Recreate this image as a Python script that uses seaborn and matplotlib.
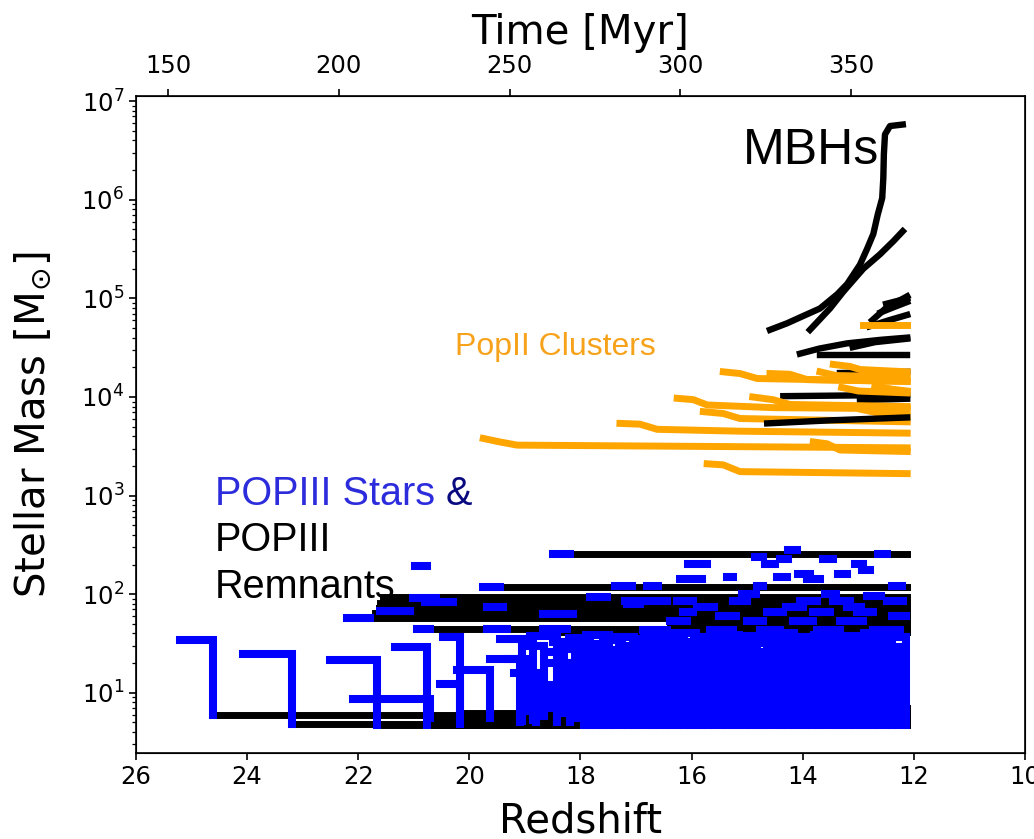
import numpy as np
import pandas as pd
import matplotlib
matplotlib.use("Agg")
import matplotlib.pyplot as plt
import seaborn as sns

# ---------------------------------------------------------------- data
Z_END = 12.12

# Pop III stars drawn as steps: formation z, death z, initial mass, remnant mass
step_z_form = [25.21, 24.07, 22.51, 22.09, 21.34, 20.47, 20.22, 20.53, 19.63, 19.20,
               19.45, 19.30, 19.20, 19.00, 18.95, 18.90, 18.60, 18.55, 18.50, 18.30,
               18.20, 18.10, 17.95, 17.90, 17.75, 17.60, 17.50, 17.45, 17.30, 17.20,
               17.05, 17.00, 16.85, 16.75, 16.60, 16.55, 16.40, 16.30, 16.20, 16.10,
               15.95, 15.90, 15.75, 15.65, 15.50, 15.45, 15.30, 15.20, 15.10, 15.00,
               14.90, 14.75, 14.65, 14.55, 14.45, 14.30, 14.25, 14.10, 14.00, 13.90,
               13.80, 13.65, 13.55, 13.45, 13.35, 13.25, 13.10, 13.00, 12.90, 12.80,
               12.70, 12.55]
step_z_death = [24.61, 23.19, 21.66, 20.71, 20.76, 20.17, 19.63, 20.17, 19.09, 18.85,
                19.05, 18.92, 18.80, 18.66, 18.55, 18.42, 18.30, 18.18, 18.05, 17.93,
                17.82, 17.70, 17.60, 17.48, 17.37, 17.25, 17.14, 17.03, 16.92, 16.80,
                16.70, 16.58, 16.47, 16.36, 16.25, 16.14, 16.03, 15.92, 15.81, 15.70,
                15.59, 15.48, 15.37, 15.26, 15.15, 15.04, 14.93, 14.82, 14.71, 14.60,
                14.49, 14.38, 14.27, 14.16, 14.05, 13.94, 13.83, 13.72, 13.61, 13.50,
                13.39, 13.28, 13.17, 13.06, 12.95, 12.84, 12.73, 12.62, 12.51, 12.40,
                12.26, 12.14]
step_m_init = [34.5, 24.9, 21.6, 8.7, 29.3, 37.0, 17.1, 12.3, 22.0, 35.0,
               35, 22, 16, 30, 12, 38, 26, 20, 33, 28,
               36, 24, 31, 39, 27, 34, 22, 37, 30, 25,
               35, 29, 38, 32, 26, 36, 30, 40, 33, 27,
               37, 31, 35, 28, 39, 33, 30, 36, 26, 38,
               32, 35, 29, 40, 34, 31, 37, 28, 36, 33,
               39, 30, 35, 32, 38, 27, 36, 31, 40, 34,
               29, 37]
step_m_rem = [6.0, 4.85, 4.75, 5.6, 4.75, 4.8, 5.5, 6.2, 5.0, 5.3,
              5.2, 6.5, 5.0, 5.8, 7.0, 5.0, 6.2, 5.1, 5.6, 4.7,
              4.7, 4.7, 4.7, 4.7, 4.7, 4.7, 4.7, 4.7, 4.7, 4.7,
              4.7, 4.7, 4.7, 4.7, 4.7, 4.7, 4.7, 4.7, 4.7, 4.7,
              4.7, 4.7, 4.7, 4.7, 4.7, 4.7, 4.7, 4.7, 4.7, 4.7,
              4.7, 4.7, 4.7, 4.7, 4.7, 4.7, 4.7, 4.7, 4.7, 4.7,
              4.7, 4.7, 4.7, 4.7, 4.7, 4.7, 4.7, 4.7, 4.7, 4.7,
              4.7, 4.7]

# short-lived Pop III stars drawn as blue dashes
dash_z_start = [20.97, 18.49, 19.75, 16.06, 16.21, 15.36, 14.86, 14.68, 14.41, 14.27,
                14.46, 14.08, 13.92, 13.63, 13.36, 13.06, 12.93, 12.64,
                22.20, 21.61, 21.01, 20.80, 20.95, 19.68, 19.68, 18.67, 18.67, 17.83,
                17.16, 17.38, 16.80, 14.82, 12.39, 17.20, 16.80, 16.26, 15.25, 14.05,
                13.45, 12.49, 16.15, 14.64, 13.81, 13.02, 16.39, 15.00, 14.18, 13.33,
                16.87, 15.67, 14.77, 13.74, 12.73, 15.90, 15.50, 14.30, 13.20, 12.85,
                12.40, 15.10, 13.60]
dash_z_end = [20.76, 18.19, 19.45, 15.72, 15.81, 15.25, 14.71, 14.50, 14.27, 14.10,
              14.28, 13.87, 13.69, 13.45, 13.20, 12.91, 12.79, 12.48,
              21.79, 21.07, 20.60, 20.29, 20.71, 19.39, 19.32, 18.13, 18.24, 17.52,
              16.93, 17.07, 16.60, 14.71, 12.21, 16.93, 16.44, 15.97, 15.00, 13.74,
              13.15, 12.20, 15.97, 14.35, 13.51, 12.73, 16.08, 14.71, 13.81, 12.91,
              16.44, 15.25, 14.41, 13.33, 12.25, 15.60, 15.20, 14.00, 12.95, 12.60,
              12.15, 14.85, 13.40]
dash_mass = [195, 258, 119, 204, 142, 151, 238, 204, 225, 283,
             151, 162, 142, 229, 160, 204, 177, 258,
             57, 68, 92, 84, 44, 75, 44, 63, 44, 94,
             80, 120, 120, 120, 120, 86, 86, 86, 86, 86,
             86, 86, 66, 66, 66, 66, 53, 53, 53, 53,
             43, 43, 43, 43, 43, 75, 60, 75, 75, 95,
             60, 100, 100]

# Pop III remnants (black) continuing to the last output
rem_z_start = [18.19, 19.45, 21.55, 21.60, 21.62, 21.70, 22.20, 20.71, 18.50, 16.39]
rem_mass = [258, 119, 94, 82, 72, 64, 57, 44, 41, 50]

# massive black holes
mbh1_z = [14.59, 14.28, 14.00, 13.69, 13.38, 13.20, 12.97, 12.84, 12.73, 12.65, 12.57,
          12.55, 12.54, 12.52, 12.43, 12.20]
mbh1_m = [4.8e4, 5.6e4, 6.6e4, 7.9e4, 1.1e5, 1.4e5, 2.2e5, 3.2e5, 4.5e5, 7.1e5, 1.04e6,
          1.66e6, 2.9e6, 4.6e6, 5.6e6, 5.8e6]
mbh2_z = [13.87, 13.51, 13.27, 12.91, 12.61, 12.37, 12.20]
mbh2_m = [4.8e4, 7.9e4, 1.17e5, 2.0e5, 2.8e5, 3.8e5, 4.8e5]
mbh3_z = [14.05, 13.70, 13.20, 12.60, 12.12]
mbh3_m = [2.75e4, 3.1e4, 3.5e4, 3.8e4, 4.0e4]
mbh4_z = [13.69, 12.12]
mbh4_m = [2.65e4, 2.65e4]
mbh5_z = [13.10, 12.70, 12.12]
mbh5_m = [3.2e4, 3.6e4, 3.9e4]
mbh6_z = [12.75, 12.50, 12.12]
mbh6_m = [6.0e4, 8.0e4, 1.05e5]
mbh7_z = [12.60, 12.35, 12.12]
mbh7_m = [7.2e4, 8.2e4, 9.2e4]
mbh8_z = [12.80, 12.45, 12.12]
mbh8_m = [5.2e4, 6.0e4, 6.8e4]
mbh9_z = [12.50, 12.12]
mbh9_m = [8.8e4, 1.0e5]
mbh10_z = [14.35, 12.12]
mbh10_m = [1.02e4, 1.05e4]
mbh11_z = [13.33, 12.12]
mbh11_m = [1.75e4, 1.8e4]
mbh12_z = [12.97, 12.12]
mbh12_m = [9.3e3, 9.6e3]
mbh13_z = [14.64, 13.50, 12.12]
mbh13_m = [5.4e3, 5.8e3, 6.2e3]

# Pop II clusters
pop2a_z = [19.75, 19.45, 19.14, 12.12]
pop2a_m = [3.8e3, 3.5e3, 3.25e3, 3.05e3]
pop2b_z = [17.29, 16.93, 16.62, 15.13, 12.12]
pop2b_m = [5.4e3, 5.3e3, 4.7e3, 4.5e3, 4.3e3]
pop2c_z = [16.26, 15.97, 15.72, 14.54, 12.12]
pop2c_m = [9.7e3, 9.4e3, 8.3e3, 7.8e3, 7.6e3]
pop2d_z = [15.79, 15.43, 15.13, 12.12]
pop2d_m = [7.1e3, 6.8e3, 6.05e3, 5.6e3]
pop2e_z = [15.43, 15.13, 14.82, 12.12]
pop2e_m = [1.8e4, 1.73e4, 1.54e4, 1.44e4]
pop2f_z = [14.90, 14.54, 14.23, 12.12]
pop2f_m = [1.0e4, 9.4e3, 8.4e3, 8.0e3]
pop2g_z = [14.59, 14.23, 13.92, 12.12]
pop2g_m = [1.73e4, 1.7e4, 1.5e4, 1.44e4]
pop2h_z = [13.45, 13.15, 12.97, 12.12]
pop2h_m = [2.14e4, 2.04e4, 1.9e4, 1.8e4]
pop2i_z = [15.72, 15.43, 15.13, 12.12]
pop2i_m = [2.1e3, 2.05e3, 1.75e3, 1.67e3]
pop2j_z = [13.81, 13.56, 13.33, 12.12]
pop2j_m = [3.5e3, 3.35e3, 2.9e3, 2.8e3]
pop2k_z = [12.91, 12.12]
pop2k_m = [5.4e4, 5.4e4]
pop2l_z = [13.69, 13.40, 12.12]
pop2l_m = [1.8e4, 1.65e4, 1.6e4]
pop2m_z = [12.70, 12.40, 12.12]
pop2m_m = [1.3e4, 1.2e4, 1.15e4]
pop2n_z = [12.95, 12.60, 12.12]
pop2n_m = [7.5e3, 6.8e3, 6.5e3]
pop2o_z = [13.30, 13.00, 12.12]
pop2o_m = [1.25e4, 1.15e4, 1.1e4]

time_ticks = [150, 200, 250, 300, 350]
redshift_ticks = [26, 24, 22, 20, 18, 16, 14, 12, 10]

# ---------------------------------------------------------------- style
sns.set_style("ticks")
plt.rcParams["font.family"] = ["DejaVu Sans"]
plt.rcParams["mathtext.fontset"] = "dejavusans"
for key in ["text.color", "axes.labelcolor", "xtick.color", "ytick.color",
            "axes.edgecolor"]:
    plt.rcParams[key] = "black"

fig = plt.figure(figsize=(10.34, 8.39), dpi=100)
ax = fig.add_axes([0.1315, 0.1025, 0.8598, 0.7831])
ax.set_yscale("log")


def frame(tracks):
    rows = []
    for i, (zs, ms) in enumerate(tracks):
        for z, m in zip(zs, ms):
            rows.append((i, z, m))
    return pd.DataFrame(rows, columns=["track", "z", "mass"])


def draw(tracks, color, lw, join="round", zorder=2):
    n0 = len(ax.lines)
    df = frame(tracks)
    sns.lineplot(data=df, x="z", y="mass", units="track", estimator=None,
                 sort=False, color=color, linewidth=lw, legend=False, ax=ax,
                 solid_capstyle="projecting", solid_joinstyle=join)
    for ln in ax.lines[n0:]:
        ln.set_zorder(zorder)


# remnants
rem_tracks = [([zs, Z_END], [m, m]) for zs, m in zip(rem_z_start, rem_mass)]
rem_tracks += [([zd, Z_END], [mr, mr]) for zd, mr in zip(step_z_death, step_m_rem)]
draw(rem_tracks, "black", 5.0, join="miter", zorder=2)

# MBHs (behind the clusters)
mbh_back = [(mbh1_z, mbh1_m), (mbh2_z, mbh2_m), (mbh3_z, mbh3_m), (mbh4_z, mbh4_m),
            (mbh5_z, mbh5_m), (mbh6_z, mbh6_m), (mbh7_z, mbh7_m), (mbh8_z, mbh8_m),
            (mbh9_z, mbh9_m), (mbh10_z, mbh10_m), (mbh11_z, mbh11_m), (mbh12_z, mbh12_m)]
draw(mbh_back, "black", 4.6, zorder=3)

# Pop II clusters
pop2 = [(pop2a_z, pop2a_m), (pop2b_z, pop2b_m), (pop2c_z, pop2c_m), (pop2d_z, pop2d_m),
        (pop2e_z, pop2e_m), (pop2f_z, pop2f_m), (pop2g_z, pop2g_m), (pop2h_z, pop2h_m),
        (pop2i_z, pop2i_m), (pop2j_z, pop2j_m), (pop2k_z, pop2k_m), (pop2l_z, pop2l_m),
        (pop2m_z, pop2m_m), (pop2n_z, pop2n_m), (pop2o_z, pop2o_m)]
draw(pop2, "#ffa500", 5.0, zorder=4)

# MBH drawn on top of clusters
draw([(mbh13_z, mbh13_m)], "black", 4.6, zorder=5)

# Pop III stars
step_tracks = [([zf, zd, zd], [mi, mi, mr]) for zf, zd, mi, mr in
               zip(step_z_form, step_z_death, step_m_init, step_m_rem)]
draw(step_tracks, "#0000ff", 5.8, join="miter", zorder=6)
dash_tracks = [([a, b], [m, m]) for a, b, m in zip(dash_z_start, dash_z_end, dash_mass)]
draw(dash_tracks, "#0000ff", 5.8, join="miter", zorder=6)

# ---------------------------------------------------------------- axes
ax.set_xlim(26, 10)
ax.set_ylim(2.45, 1.13e7)
ax.set_xticks(redshift_ticks)
ax.set_xticklabels([str(t) for t in redshift_ticks])
ax.set_xlabel("Redshift", fontsize=29, labelpad=9)
ax.set_ylabel(r"Stellar Mass [M$_{\odot}$]", fontsize=29, labelpad=20)
ax.tick_params(axis="both", which="major", labelsize=17.5, length=5, width=1.2)
ax.tick_params(axis="y", which="minor", length=3, width=0.9)
for s in ax.spines.values():
    s.set_linewidth(1.2)
    s.set_color("black")

ax2 = ax.twiny()
ax2.set_xlim(140.6, 400.9)
ax2.set_xticks(time_ticks)
ax2.set_xticklabels([str(t) for t in time_ticks])
ax2.set_xlabel("Time [Myr]", fontsize=29, labelpad=7)
ax2.tick_params(axis="x", labelsize=17.5, length=5, width=1.2, pad=8)

# ---------------------------------------------------------------- annotations
ax.text(15.07, 3.1e6, "MBHs", fontsize=36, family="Liberation Sans",
        color="black", va="center", ha="left", zorder=10)
ax.text(20.26, 3.2e4, "PopII Clusters", fontsize=23, family="Liberation Sans",
        color="#f7a21b", va="center", ha="left", zorder=10)
t = ax.text(24.58, 1.05e3, "POPIII Stars", fontsize=28.5, family="Liberation Sans",
            color="#2c2cdc", va="center", ha="left", zorder=10)
ax.annotate(" &", xy=(1, 0.5), xycoords=t, fontsize=28.5, family="Liberation Sans",
            color="#0a0a80", va="center", ha="left", zorder=10)
ax.text(24.58, 357, "POPIII", fontsize=28.5, family="Liberation Sans",
        color="black", va="center", ha="left", zorder=10)
ax.text(24.58, 119, "Remnants", fontsize=28.5, family="Liberation Sans",
        color="black", va="center", ha="left", zorder=10)

fig.savefig("out.png", dpi=100)
